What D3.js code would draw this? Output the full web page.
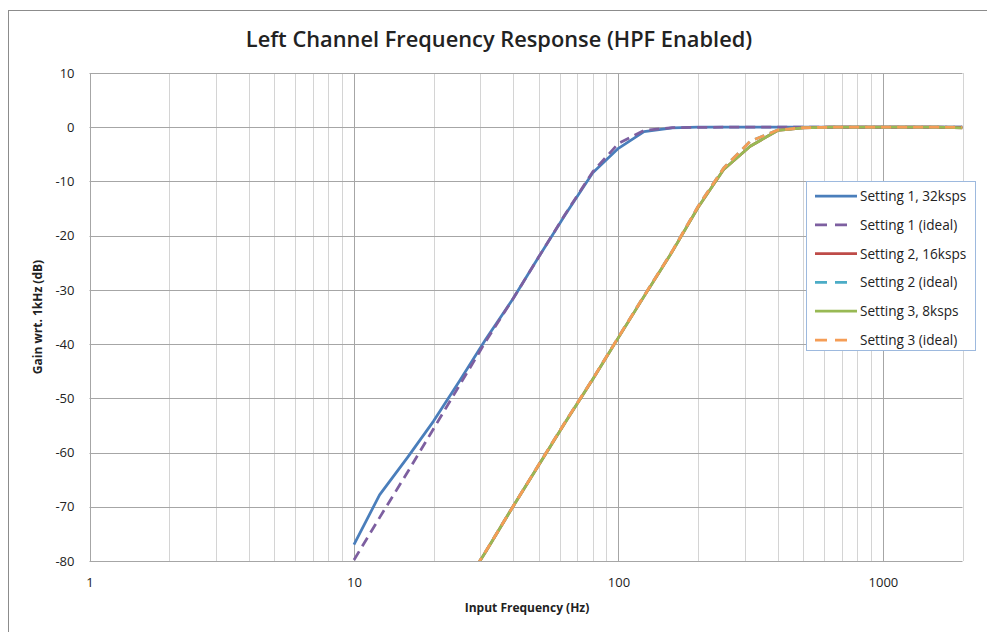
<!DOCTYPE html>
<html>
<head>
<meta charset="utf-8">
<script src="https://cdn.jsdelivr.net/npm/d3@7"></script>
<style>
  html, body { margin: 0; padding: 0; background: #fff; }
  svg { display: block; }
  text { font-family: "Open Sans", "Liberation Sans", sans-serif; fill: #222; }
</style>
</head>
<body>
<svg id="chart" width="987" height="632"></svg>
<script>
// Frequencies (Hz), 1/3-octave points
const freqs = [10, 12.5, 16, 20, 25, 31.5, 40, 50, 63, 80, 100, 125, 160, 200, 250, 315, 400, 500, 630, 800, 1000, 1250, 1600, 2000];
const freqs2 = [25, 31.5, 40, 50, 63, 80, 100, 125, 160, 200, 250, 315, 400, 500, 630, 800, 1000, 1250, 1600, 2000];

// Gain relative to 1 kHz (dB)
const setting1 = [-77.0, -67.8, -60.8, -54.2, -46.9, -39.1, -31.6, -23.9, -16.1, -8.4, -3.9, -0.8, -0.1, 0, 0, 0, 0, 0, 0, 0, 0, 0, 0, 0];
const setting1Ideal = [-79.8, -72.0, -63.5, -55.6, -47.7, -39.5, -31.6, -23.9, -16.0, -8.2, -3.0, -0.6, -0.09, -0.02, 0, 0, 0, 0, 0, 0, 0, 0, 0, 0];
const setting2 = [-86.0, -78.3, -69.9, -62.3, -54.4, -46.5, -38.8, -31.2, -22.9, -14.8, -7.8, -3.5, -0.6, -0.1, 0, 0, 0, 0, 0, -0.1];
const setting2Ideal = [-86.0, -78.2, -69.9, -62.2, -54.3, -46.4, -38.7, -31.1, -22.8, -14.6, -7.5, -2.6, -0.5, -0.08, 0, 0, 0, 0, 0, 0];
const setting3 = [-86.0, -78.3, -69.9, -62.3, -54.4, -46.5, -38.8, -31.2, -22.9, -14.8, -7.8, -3.5, -0.6, -0.1, 0, 0, 0, 0, 0, -0.1];
const setting3Ideal = [-86.0, -78.2, -69.9, -62.2, -54.3, -46.4, -38.7, -31.1, -22.8, -14.6, -7.5, -2.6, -0.5, -0.08, 0, 0, 0, 0, 0, 0];

const seriesNames = ["Setting 1, 32ksps", "Setting 1 (ideal)", "Setting 2, 16ksps", "Setting 2 (ideal)", "Setting 3, 8ksps", "Setting 3 (ideal)"];
const seriesColors = ["#4a7ebb", "#7d5fa0", "#be4b48", "#4bacc6", "#98b954", "#f59d56"];

const xTickValues = [1, 10, 100, 1000];
const yTickValues = [10, 0, -10, -20, -30, -40, -50, -60, -70, -80];

const series = [
  { name: seriesNames[0], color: seriesColors[0], dashed: false, f: freqs,  g: setting1 },
  { name: seriesNames[1], color: seriesColors[1], dashed: true,  f: freqs,  g: setting1Ideal },
  { name: seriesNames[2], color: seriesColors[2], dashed: false, f: freqs2, g: setting2 },
  { name: seriesNames[3], color: seriesColors[3], dashed: true,  f: freqs2, g: setting2Ideal },
  { name: seriesNames[4], color: seriesColors[4], dashed: false, f: freqs2, g: setting3 },
  { name: seriesNames[5], color: seriesColors[5], dashed: true,  f: freqs2, g: setting3Ideal }
];

const svg = d3.select("#chart");

// Outer chart frame
svg.append("rect")
  .attr("x", 8.5).attr("y", 10.5)
  .attr("width", 1000).attr("height", 640)
  .attr("fill", "#fff").attr("stroke", "#8c8c8c").attr("stroke-width", 1);

const plot = { left: 89.5, right: 962.5, top: 73, bottom: 561 };

const x = d3.scaleLog().domain([1, 2000]).range([plot.left, plot.right]);
const y = d3.scaleLinear().domain([-80, 10]).range([plot.bottom, plot.top]);

// Vertical gridlines: minor (2..9 per decade) then decades
const minorX = [];
for (let e = 0; e < 4; e++) {
  for (let m = 2; m <= 9; m++) {
    const v = m * Math.pow(10, e);
    if (v <= 2000) minorX.push(v);
  }
}
svg.append("g").selectAll("line").data(minorX).join("line")
  .attr("x1", d => Math.round(x(d)) + 0.5).attr("x2", d => Math.round(x(d)) + 0.5)
  .attr("y1", plot.top).attr("y2", plot.bottom)
  .attr("stroke", "#d4d4d4").attr("stroke-width", 1);

svg.append("g").selectAll("line").data(xTickValues).join("line")
  .attr("x1", d => Math.round(x(d)) + 0.5).attr("x2", d => Math.round(x(d)) + 0.5)
  .attr("y1", plot.top).attr("y2", plot.bottom)
  .attr("stroke", "#a6a6a6").attr("stroke-width", 1);

// Horizontal gridlines
svg.append("g").selectAll("line").data(yTickValues).join("line")
  .attr("x1", plot.left).attr("x2", plot.right)
  .attr("y1", d => Math.round(y(d)) + 0.5).attr("y2", d => Math.round(y(d)) + 0.5)
  .attr("stroke", "#a6a6a6").attr("stroke-width", 1);

// Axes (labels only; lines come from the grid)
const plainNumber = d => String(d);
const xAxis = d3.axisBottom(x).tickValues(xTickValues).tickFormat(plainNumber).tickSize(0).tickPadding(17);
const gx = svg.append("g").attr("transform", `translate(0,${plot.bottom})`).call(xAxis);
gx.select(".domain").remove();
gx.selectAll("text").style("font-size", "13px").style("fill", "#222")
  .style("font-family", "\"Open Sans\", \"Liberation Sans\", sans-serif");

const yAxis = d3.axisLeft(y).tickValues(yTickValues).tickFormat(plainNumber).tickSize(0).tickPadding(15);
const gy = svg.append("g").attr("transform", `translate(${plot.left},0)`).call(yAxis);
gy.select(".domain").remove();
gy.selectAll("text").style("font-size", "13px").style("fill", "#222")
  .style("font-family", "\"Open Sans\", \"Liberation Sans\", sans-serif");

// Clip the curves to the plotting area
svg.append("clipPath").attr("id", "plotClip")
  .append("rect")
  .attr("x", plot.left).attr("y", plot.top)
  .attr("width", plot.right - plot.left).attr("height", plot.bottom - plot.top);

const line = d3.line()
  .x(d => x(d[0]))
  .y(d => y(d[1]));

const curves = svg.append("g").attr("clip-path", "url(#plotClip)");
series.forEach(s => {
  curves.append("path")
    .datum(s.f.map((f, i) => [f, s.g[i]]))
    .attr("d", line)
    .attr("fill", "none")
    .attr("stroke", s.color)
    .attr("stroke-width", 2.75)
    .attr("stroke-linejoin", "round")
    .attr("stroke-dasharray", s.dashed ? "10,6" : null);
});

// Title
svg.append("text")
  .attr("x", 499).attr("y", 47)
  .attr("text-anchor", "middle")
  .style("font-size", "21.8px").style("font-weight", "600")
  .text("Left Channel Frequency Response (HPF Enabled)");

// Axis titles
svg.append("text")
  .attr("x", 527).attr("y", 612)
  .attr("text-anchor", "middle")
  .style("font-size", "12px").style("font-weight", "700")
  .text("Input Frequency (Hz)");

svg.append("text")
  .attr("transform", "translate(42,317) rotate(-90)")
  .attr("text-anchor", "middle")
  .style("font-size", "12px").style("font-weight", "700")
  .text("Gain wrt. 1kHz (dB)");

// Legend
const legend = svg.append("g");
legend.append("rect")
  .attr("x", 806.5).attr("y", 181.5)
  .attr("width", 169).attr("height", 169)
  .attr("fill", "#fff").attr("stroke", "#9db9de").attr("stroke-width", 1);

const rowY = d3.scaleLinear().domain([0, 5]).range([196, 340]);
series.forEach((s, i) => {
  const cy = rowY(i);
  legend.append("line")
    .attr("x1", 815).attr("x2", s.dashed ? 847 : 857)
    .attr("y1", cy).attr("y2", cy)
    .attr("stroke", s.color).attr("stroke-width", 2.75)
    .attr("stroke-dasharray", s.dashed ? "12,8" : null);
  legend.append("text")
    .attr("x", 860).attr("y", cy + 5)
    .style("font-size", "13.6px")
    .text(s.name);
});
</script>
</body>
</html>
